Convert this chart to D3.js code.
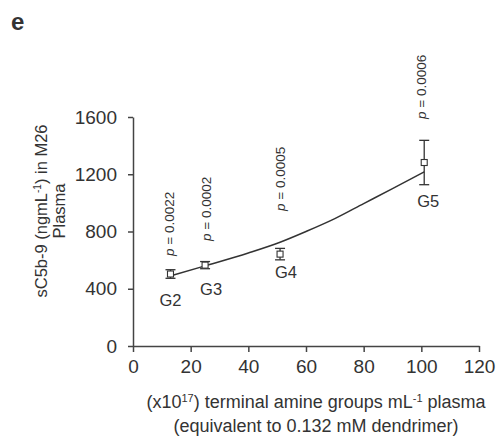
<!DOCTYPE html>
<html>
<head>
<meta charset="utf-8">
<script src="https://cdn.jsdelivr.net/npm/d3@7"></script>
<style>
  body { margin: 0; background: #fff; }
  text { font-family: "Liberation Sans", Arial, sans-serif; fill: #333; }
</style>
</head>
<body>
<script>
// Data
var groups = ["G2", "G3", "G4", "G5"];
var amine = [13, 25, 51, 101];          // x10^17 terminal amine groups per mL
var sc5b9 = [503, 565, 642, 1282];      // ng/mL
var errs = [30, 25, 40, 155];
var pvals = ["0.0022", "0.0002", "0.0005", "0.0006"];
// fitted trend line
var fitX = [13, 25, 40, 51, 60, 70, 80, 90, 101];
var fitY = [490, 560, 650, 725, 800, 890, 995, 1100, 1217];
var xTicks = [0, 20, 40, 60, 80, 100, 120];
var yTicks = [0, 400, 800, 1200, 1600];

var width = 496, height = 444;
var svg = d3.select("body").append("svg")
    .attr("width", width)
    .attr("height", height);

// scales
var x = d3.scaleLinear().domain([0, 120]).range([133, 479]);
var y = d3.scaleLinear().domain([0, 1600]).range([346, 117]);

var axisColor = "#444";

// x axis
var gx = svg.append("g")
    .attr("transform", "translate(0," + y(0) + ")")
    .call(d3.axisBottom(x).tickValues(xTicks).tickFormat(d3.format("d"))
      .tickSize(6).tickPadding(8).tickSizeOuter(0));
// y axis
var gy = svg.append("g")
    .attr("transform", "translate(" + x(0) + ",0)")
    .call(d3.axisLeft(y).tickValues(yTicks).tickFormat(d3.format("d"))
      .tickSize(5).tickPadding(11).tickSizeOuter(0));

[gx, gy].forEach(function (g) {
  g.select(".domain").attr("stroke", axisColor).attr("stroke-width", 1.5);
  g.selectAll(".tick line").attr("stroke", axisColor).attr("stroke-width", 1.5);
  g.selectAll(".tick text")
      .attr("fill", "#333")
      .style("font-family", "'Liberation Sans', Arial, sans-serif")
      .style("font-size", "19px");
});

// trend curve
var line = d3.line()
    .x(function (d, i) { return x(fitX[i]); })
    .y(function (d) { return y(d); })
    .curve(d3.curveMonotoneX);

svg.append("path")
    .datum(fitY)
    .attr("fill", "none")
    .attr("stroke", "#333")
    .attr("stroke-width", 1.5)
    .attr("d", line);

// error bars + square markers
var pts = svg.append("g").selectAll("g")
    .data(groups)
    .enter().append("g");

pts.append("line")
    .attr("x1", function (d, i) { return x(amine[i]); })
    .attr("x2", function (d, i) { return x(amine[i]); })
    .attr("y1", function (d, i) { return y(sc5b9[i] + errs[i]); })
    .attr("y2", function (d, i) { return y(sc5b9[i] - errs[i]); })
    .attr("stroke", "#333")
    .attr("stroke-width", 1.3);

[1, -1].forEach(function (s) {
  pts.append("line")
      .attr("x1", function (d, i) { return x(amine[i]) - 5; })
      .attr("x2", function (d, i) { return x(amine[i]) + 5; })
      .attr("y1", function (d, i) { return y(sc5b9[i] + s * errs[i]); })
      .attr("y2", function (d, i) { return y(sc5b9[i] + s * errs[i]); })
      .attr("stroke", "#333")
      .attr("stroke-width", 1.3);
});

pts.append("rect")
    .attr("x", function (d, i) { return x(amine[i]) - 3; })
    .attr("y", function (d, i) { return y(sc5b9[i]) - 3; })
    .attr("width", 6)
    .attr("height", 6)
    .attr("fill", "#fff")
    .attr("stroke", "#333")
    .attr("stroke-width", 1.1);

// group labels (offsets below each point)
var labelDx = [0, 6, 6, 4];
var labelDy = [32, 30, 24, 44];
pts.append("text")
    .attr("x", function (d, i) { return x(amine[i]) + labelDx[i]; })
    .attr("y", function (d, i) { return y(sc5b9[i]) + labelDy[i]; })
    .attr("text-anchor", "middle")
    .style("font-size", "16.5px")
    .text(function (d) { return d; });

// p-value labels, rotated
var pBottom = [256, 241, 211, 119];
var pDx = [0, 2, 1, -2];
pts.append("text")
    .attr("transform", function (d, i) {
      return "translate(" + (x(amine[i]) + 4 + pDx[i]) + "," + pBottom[i] + ") rotate(-90)";
    })
    .attr("text-anchor", "start")
    .style("font-size", "13.5px")
    .each(function (d, i) {
      var t = d3.select(this);
      t.append("tspan").style("font-style", "italic").text("p");
      t.append("tspan").text(" = " + pvals[i]);
    });

// panel letter
svg.append("text")
    .attr("x", 11)
    .attr("y", 30)
    .style("font-size", "24px")
    .style("font-weight", "bold")
    .text("e");

// y axis title
var yt = svg.append("text")
    .attr("transform", "translate(47,211) rotate(-90)")
    .attr("text-anchor", "middle")
    .style("font-size", "16.5px");
yt.append("tspan").text("sC5b-9 (ngmL");
yt.append("tspan").attr("dy", -6).style("font-size", "10px").text("-1");
yt.append("tspan").attr("dy", 6).text(") in M26");
svg.append("text")
    .attr("transform", "translate(65,211) rotate(-90)")
    .attr("text-anchor", "middle")
    .style("font-size", "16.5px")
    .text("Plasma");

// x axis title
var xt = svg.append("text")
    .attr("x", 316)
    .attr("y", 408)
    .attr("text-anchor", "middle")
    .style("font-size", "18px");
xt.append("tspan").text("(x10");
xt.append("tspan").attr("dy", -6).style("font-size", "11px").text("17");
xt.append("tspan").attr("dy", 6).text(") terminal amine groups mL");
xt.append("tspan").attr("dy", -6).style("font-size", "11px").text("-1");
xt.append("tspan").attr("dy", 6).text(" plasma");
svg.append("text")
    .attr("x", 316)
    .attr("y", 432)
    .attr("text-anchor", "middle")
    .style("font-size", "18px")
    .text("(equivalent to 0.132 mM dendrimer)");
</script>
</body>
</html>
